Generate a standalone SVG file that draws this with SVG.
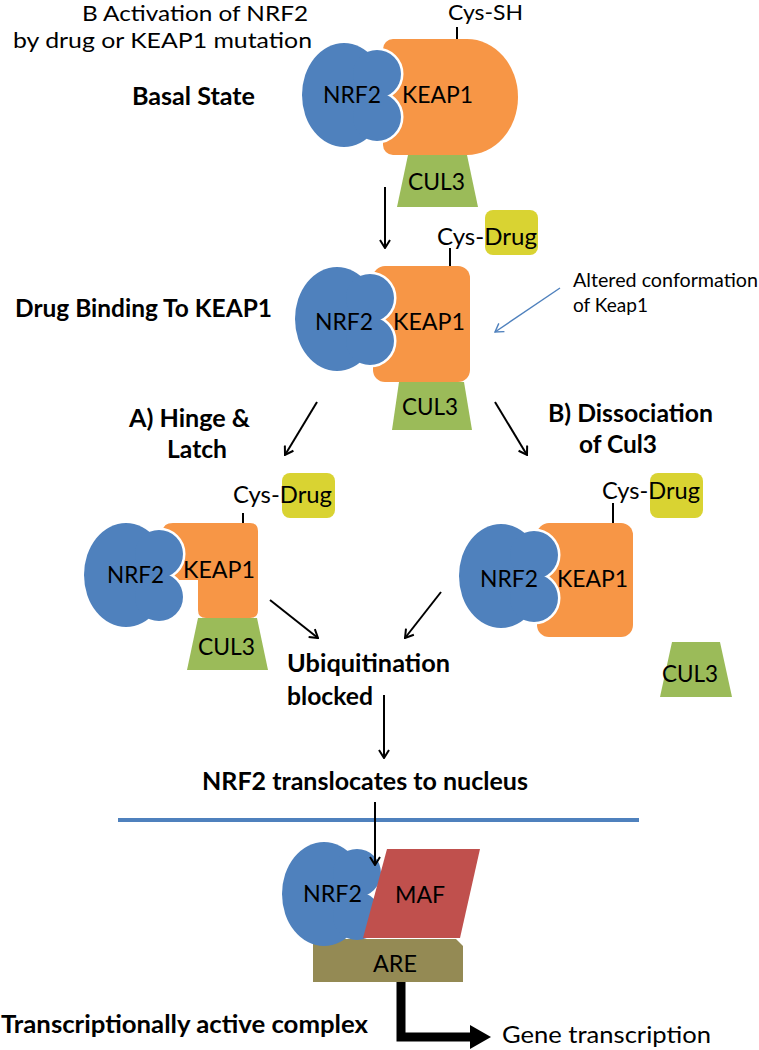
<svg xmlns="http://www.w3.org/2000/svg" xmlns:xlink="http://www.w3.org/1999/xlink" width="759" height="1050" viewBox="0 0 759 1050">
<style>
.t{font-family:Lato,'Liberation Sans',sans-serif;font-size:24px;fill:#000}
.b{font-weight:bold}
.s{font-size:19px}
.nrf{fill:#4F81BD}
.gap{fill:#fff;stroke:#fff;stroke-width:5}
.keap{fill:#F79646}
.cul{fill:#9BBB59}
.drug{fill:#D9D332}
.maf{fill:#C0504D}
.are{fill:#948A54}
.conn{stroke:#000;stroke-width:2;fill:none}
.blue{stroke:#4F81BD;stroke-width:1.4;fill:none}
</style>
<defs>
<g id="nrfShape"><ellipse cx="42" cy="53" rx="42" ry="52"/><circle cx="75" cy="32" r="24"/><circle cx="75" cy="75" r="24"/></g>
<marker id="ah" viewBox="0 0 10 12" refX="9" refY="6" markerWidth="10" markerHeight="12" markerUnits="userSpaceOnUse" orient="auto"><path d="M1,1 L9,6 L1,11" fill="none" stroke="#000" stroke-width="2"/></marker>
<marker id="ahb" viewBox="0 0 10 12" refX="9" refY="6" markerWidth="10" markerHeight="12" markerUnits="userSpaceOnUse" orient="auto"><path d="M1,1 L9,6 L1,11" fill="none" stroke="#4F81BD" stroke-width="1.4"/></marker>
</defs>
<rect width="759" height="1050" fill="#fff"/>

<g id="labels">
<text class="t" x="82" y="21" textLength="226" lengthAdjust="spacingAndGlyphs" style="font-size:21px">B Activation of NRF2</text>
<text class="t" x="13" y="48" textLength="299" lengthAdjust="spacingAndGlyphs" style="font-size:22px">by drug or KEAP1 mutation</text>
<text class="t b" x="132" y="105" textLength="123" lengthAdjust="spacingAndGlyphs">Basal State</text>
<text class="t b" x="15" y="317" textLength="257" lengthAdjust="spacingAndGlyphs">Drug Binding To KEAP1</text>
<text class="t s" x="573" y="287" textLength="185" lengthAdjust="spacingAndGlyphs">Altered conformation</text>
<text class="t s" x="573" y="312" textLength="75" lengthAdjust="spacingAndGlyphs">of Keap1</text>
<text class="t b" x="129" y="427" textLength="121" lengthAdjust="spacingAndGlyphs">A) Hinge &amp;</text>
<text class="t b" x="167" y="458" textLength="60" lengthAdjust="spacingAndGlyphs">Latch</text>
<text class="t b" x="548" y="422" textLength="165" lengthAdjust="spacingAndGlyphs">B) Dissociation</text>
<text class="t b" x="579" y="453" textLength="78" lengthAdjust="spacingAndGlyphs">of Cul3</text>
<text class="t b" x="287" y="672" textLength="163" lengthAdjust="spacingAndGlyphs">Ubiquitination</text>
<text class="t b" x="287" y="705" textLength="86" lengthAdjust="spacingAndGlyphs">blocked</text>
<text class="t b" x="202" y="790" textLength="326" lengthAdjust="spacingAndGlyphs">NRF2 translocates to nucleus</text>
<text class="t b" x="1" y="1033" textLength="367" lengthAdjust="spacingAndGlyphs">Transcriptionally active complex</text>
<text class="t" x="502" y="1043" textLength="209" lengthAdjust="spacingAndGlyphs">Gene transcription</text>
</g>

<g id="basal">
<line class="conn" x1="457" y1="27" x2="457" y2="39" stroke-width="1.5"/>
<text class="t" x="448" y="20" textLength="75" lengthAdjust="spacingAndGlyphs" style="font-size:22px">Cys-SH</text>
<path class="keap" d="M393,39 H467 A51 58 0 0 1 467,155 H393 A10 10 0 0 1 383,145 V49 A10 10 0 0 1 393,39 Z"/>
<polygon class="cul" points="408,155 467,155 478,207 397,207"/>
<use href="#nrfShape" class="gap" x="302" y="42"/>
<use href="#nrfShape" class="nrf" x="302" y="42"/>
<text class="t" x="323" y="103" textLength="58" lengthAdjust="spacingAndGlyphs">NRF2</text>
<text class="t" x="402" y="103" textLength="71" lengthAdjust="spacingAndGlyphs">KEAP1</text>
<text class="t" x="408" y="190" textLength="57" lengthAdjust="spacingAndGlyphs">CUL3</text>
</g>

<g id="drugbound">
<rect class="drug" x="485" y="210" width="53" height="45" rx="8"/>
<line class="conn" x1="450" y1="248" x2="450" y2="266" stroke-width="1.5"/>
<text class="t" x="437" y="245" textLength="100" lengthAdjust="spacingAndGlyphs">Cys-Drug</text>
<rect class="keap" x="373" y="266" width="97" height="116" rx="12"/>
<polygon class="cul" points="399,382 464,382 472,430 392,430"/>
<use href="#nrfShape" class="gap" x="295" y="266"/>
<use href="#nrfShape" class="nrf" x="295" y="266"/>
<text class="t" x="315" y="330" textLength="58" lengthAdjust="spacingAndGlyphs">NRF2</text>
<text class="t" x="393" y="330" textLength="72" lengthAdjust="spacingAndGlyphs">KEAP1</text>
<text class="t" x="402" y="415" textLength="56" lengthAdjust="spacingAndGlyphs">CUL3</text>
</g>

<g id="hinge">
<rect class="drug" x="282" y="473" width="53" height="45" rx="8"/>
<line class="conn" x1="243" y1="513" x2="243" y2="523" stroke-width="1.5"/>
<text class="t" x="233" y="503" textLength="99" lengthAdjust="spacingAndGlyphs">Cys-Drug</text>
<path class="keap" d="M173,523 H250 Q258,523 258,531 V610 Q258,618 250,618 H206 Q198,618 198,610 V580 H170 Q163,580 163,573 V531 Q163,523 173,523 Z"/>
<polygon class="cul" points="198,618 257,618 268,670 187,670"/>
<use href="#nrfShape" class="gap" x="84" y="522"/>
<use href="#nrfShape" class="nrf" x="84" y="522"/>
<text class="t" x="107" y="583" textLength="57" lengthAdjust="spacingAndGlyphs">NRF2</text>
<text class="t" x="183" y="578" textLength="72" lengthAdjust="spacingAndGlyphs">KEAP1</text>
<text class="t" x="198" y="655" textLength="57" lengthAdjust="spacingAndGlyphs">CUL3</text>
</g>

<g id="dissociation">
<rect class="drug" x="650" y="473" width="53" height="45" rx="8"/>
<line class="conn" x1="613" y1="503" x2="613" y2="523" stroke-width="1.5"/>
<text class="t" x="602" y="499" textLength="98" lengthAdjust="spacingAndGlyphs">Cys-Drug</text>
<rect class="keap" x="537" y="523" width="96" height="114" rx="12"/>
<use href="#nrfShape" class="gap" x="459" y="523"/>
<use href="#nrfShape" class="nrf" x="459" y="523"/>
<text class="t" x="480" y="587" textLength="58" lengthAdjust="spacingAndGlyphs">NRF2</text>
<text class="t" x="557" y="587" textLength="71" lengthAdjust="spacingAndGlyphs">KEAP1</text>
</g>

<g id="cul3-free">
<polygon class="cul" points="672,642 720,642 732,697 660,697"/>
<text class="t" x="662" y="682" textLength="56" lengthAdjust="spacingAndGlyphs">CUL3</text>
</g>

<g id="nucleus-complex">
<path class="are" d="M316,939 H456 L463,946 V982 H313 V942 Q313,939 316,939 Z"/>
<use href="#nrfShape" class="nrf" x="282" y="841"/>
<polygon class="maf" points="387,849 480,849 460,938 363,938"/>
<text class="t" x="303" y="902" textLength="59" lengthAdjust="spacingAndGlyphs">NRF2</text>
<text class="t" x="395" y="903" textLength="50" lengthAdjust="spacingAndGlyphs">MAF</text>
<text class="t" x="373" y="972" textLength="44" lengthAdjust="spacingAndGlyphs">ARE</text>
</g>

<g id="connectors">
<line class="conn" x1="385" y1="187" x2="385" y2="248" marker-end="url(#ah)"/>
<line class="conn" x1="317" y1="402" x2="285" y2="455" marker-end="url(#ah)"/>
<line class="conn" x1="495" y1="402" x2="527" y2="455" marker-end="url(#ah)"/>
<line class="conn" x1="270" y1="600" x2="318" y2="638" marker-end="url(#ah)"/>
<line class="conn" x1="441" y1="592" x2="405" y2="638" marker-end="url(#ah)"/>
<line class="conn" x1="384" y1="695" x2="384" y2="758" marker-end="url(#ah)"/>
<line class="blue" x1="560" y1="288" x2="495" y2="332" marker-end="url(#ahb)"/>
<line x1="118" y1="820" x2="639" y2="820" stroke="#4F81BD" stroke-width="4"/>
<line class="conn" x1="375" y1="802" x2="375" y2="865" marker-end="url(#ah)"/>
<path d="M401,982 V1037 H472" fill="none" stroke="#000" stroke-width="9"/>
<polygon points="470,1025 491,1037 470,1049" fill="#000"/>
</g>
</svg>
